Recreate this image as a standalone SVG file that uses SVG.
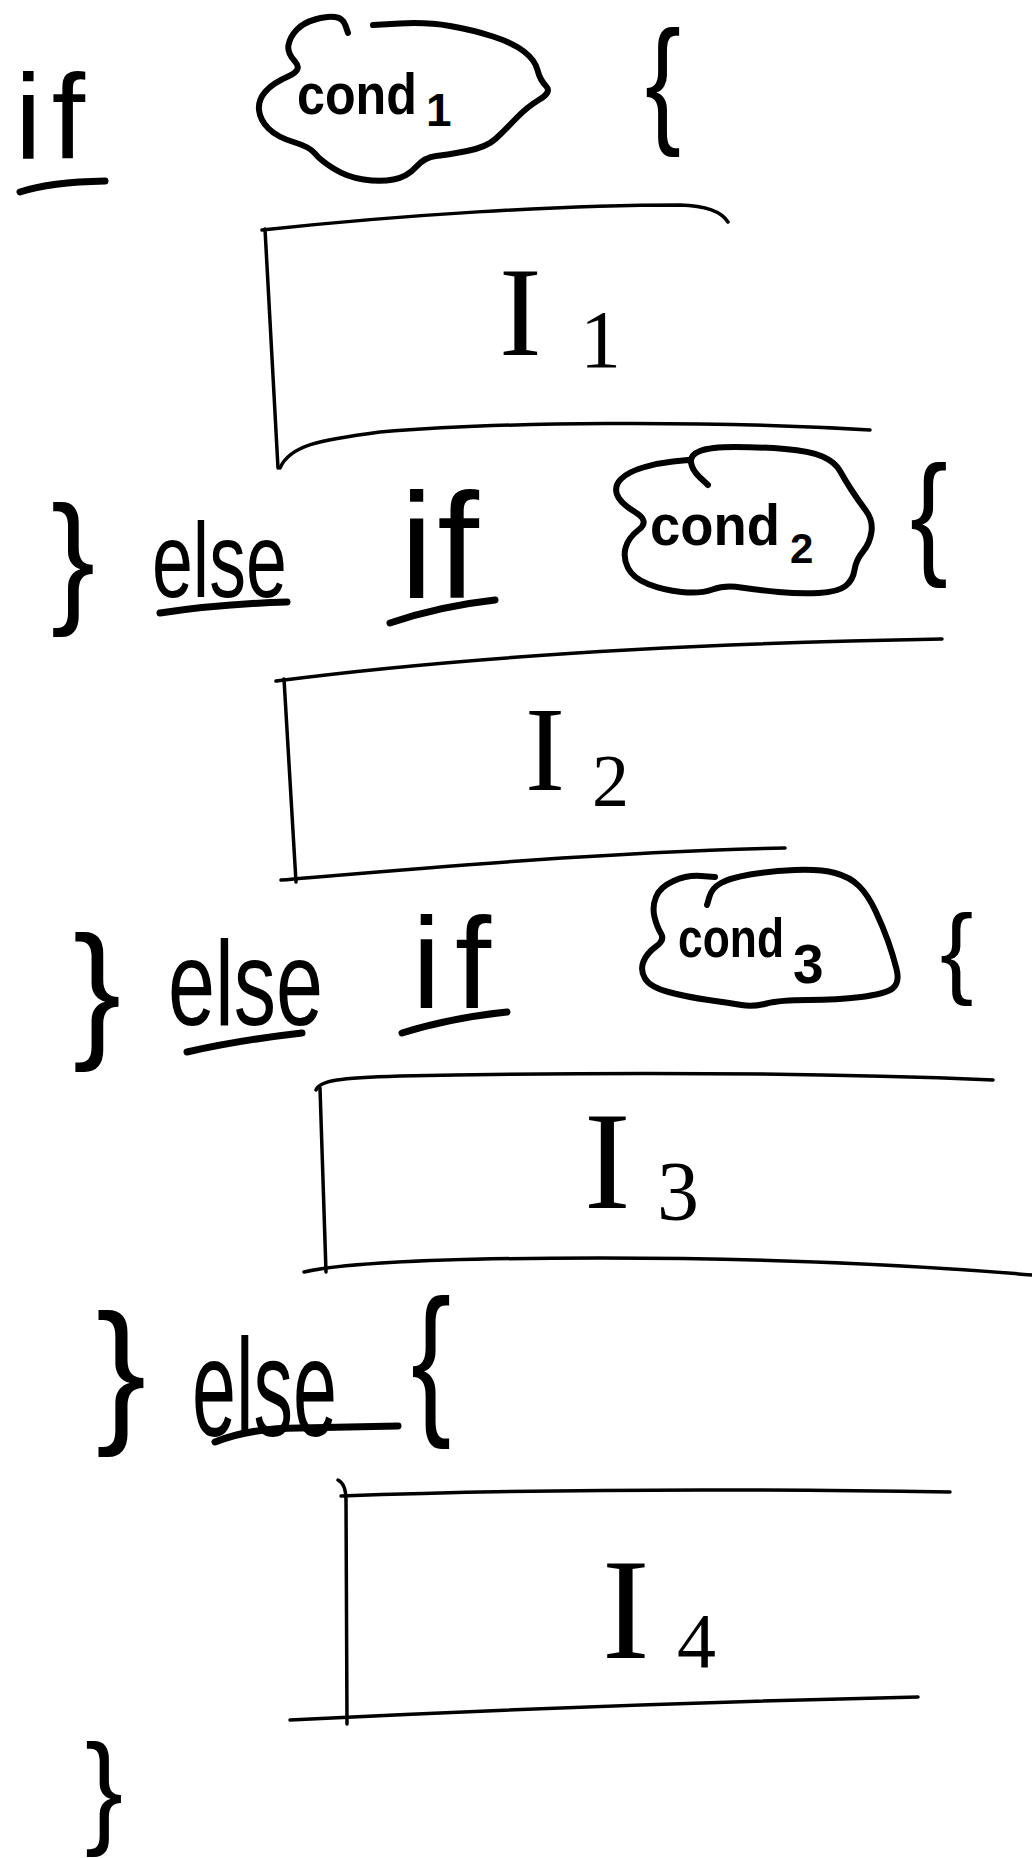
<svg xmlns="http://www.w3.org/2000/svg" width="1032" height="1858" viewBox="0 0 1032 1858">
<style>
.t{font-family:"Liberation Sans",Arial,sans-serif;fill:#000}
.b{font-weight:bold}
.s{font-family:"Liberation Serif","Times New Roman",serif;fill:#000}
.box{fill:none;stroke:#000;stroke-width:3.5;stroke-linecap:round;stroke-linejoin:round}
.cloud{fill:none;stroke:#000;stroke-width:6;stroke-linecap:round;stroke-linejoin:round}
.ul{fill:none;stroke:#000;stroke-width:7;stroke-linecap:round}
</style>
<rect width="1032" height="1858" fill="#fff"/>

<g id="row1">
  <text class="t" x="15" y="158" font-size="120">i<tspan dx="10">f</tspan></text>
  <path class="ul" d="M20,192 Q50,182 105,181"/>
  <text class="t" transform="translate(645,128) scale(0.77,1)" font-size="140">{</text>
</g>

<g id="cond1">
  <path class="cloud" d="M348,33 L345.5,25.5 Q343,18 335,17 Q327,16 315,19.5 Q303,23 296.5,30 Q290,37 288.5,45 Q287,53 295,61.5 Q303,70 288,76.5 Q273,83 265.5,91.5 Q258,100 259,110 Q260,120 268.5,128.5 Q277,137 293.5,142 Q310,147 315,153.5 Q320,160 333.5,168.5 Q347,177 363.5,179.5 Q380,182 393.5,179.5 Q407,177 416,167 Q425,157 436,156 Q447,155 467,151 Q487,147 496,138.5 Q505,130 516,118.5 Q527,107 539.5,99.5 Q552,92 546,86 Q540,80 537.5,70 Q535,60 524,51.5 Q513,43 493,36.5 Q473,30 450,26 Q427,22 400,23.5 L373,25"/>
  <text class="t b" transform="translate(297,114) scale(0.866,1)" font-size="58">cond</text>
  <text class="t b" x="426" y="126" font-size="46">1</text>
</g>

<g id="block1">
  <path class="box" d="M262,230 C400,215 560,205 680,205 Q718,206 728,222"/>
  <path class="box" d="M265,229 L278,468"/>
  <path class="box" d="M280,468 C290,445 320,440 380,432 C500,422 700,420 870,430"/>
  <text class="s" x="499" y="355" font-size="128">I</text>
  <text class="s" x="580" y="367" font-size="82">1</text>
</g>

<g id="row2">
  <text class="t" transform="translate(51,607) scale(0.91,1)" font-size="145">}</text>
  <text class="t" transform="translate(152,597) scale(0.70,1)" font-size="105">else</text>
  <path class="ul" d="M160,613 Q220,604 287,602"/>
  <text class="t" x="400" y="598" font-size="150">i<tspan dx="4">f</tspan></text>
  <path class="ul" d="M390,623 Q440,606 495,600"/>
  <text class="t" transform="translate(910,560) scale(0.84,1)" font-size="135">{</text>
</g>

<g id="cond2">
  <path class="cloud" d="M708,485 L700,477.5 Q692,470 691,462.5 Q690,455 700,451 Q710,447 735,447 Q760,447 785,449 Q810,451 822.5,456.5 Q835,462 840,471 Q845,480 851.5,490 Q858,500 865.5,510 Q873,520 871.5,531.5 Q870,543 863,551.5 Q856,560 854.5,570 Q853,580 845.5,586 Q838,592 819,593 Q800,594 778.5,592 Q757,590 741,587.5 Q725,585 712.5,589.5 Q700,594 681.5,592 Q663,590 648,584 Q633,578 628,568 Q623,558 625.5,548 Q628,538 639,529.5 Q650,521 635,512 Q620,503 617,494.5 Q614,486 621,479 Q628,472 643,467.5 Q658,463 673,461.5 L688,460"/>
  <text class="t b" transform="translate(650,545) scale(0.938,1)" font-size="58">cond</text>
  <text class="t b" x="790" y="563" font-size="42">2</text>
</g>

<g id="block2">
  <path class="box" d="M276,681 C400,665 600,645 942,639"/>
  <path class="box" d="M284,679 L296,882"/>
  <path class="box" d="M281,880 C400,870 600,852 785,848"/>
  <text class="s" x="525" y="790" font-size="120">I</text>
  <text class="s" x="592" y="806" font-size="74">2</text>
</g>

<g id="row3">
  <text class="t" transform="translate(73,1041) scale(0.96,1)" font-size="150">}</text>
  <text class="t" transform="translate(168,1025) scale(0.705,1)" font-size="120">else</text>
  <path class="ul" d="M187,1052 Q240,1040 302,1033"/>
  <text class="t" x="412" y="1008" font-size="130">i<tspan dx="14">f</tspan></text>
  <path class="ul" d="M402,1033 Q450,1018 507,1012"/>
  <text class="t" x="940" y="985" font-size="100">{</text>
</g>

<g id="cond3">
  <path class="cloud" d="M707,905 L709.5,896.5 Q712,888 721,883 Q730,878 750,874.5 Q770,871 795,870 Q820,869 835,873 Q850,877 859,886 Q868,895 875.5,911 Q883,927 888,941 Q893,955 896.5,969 Q900,983 892.5,988.5 Q885,994 861,997 Q837,1000 808.5,1000 Q780,1000 766.5,1003.5 Q753,1007 741.5,1005 Q730,1003 708.5,1000 Q687,997 668.5,992 Q650,987 645,978.5 Q640,970 643.5,961.5 Q647,953 656,946.5 Q665,940 661,933.5 Q657,927 654.5,917 Q652,907 656,897 Q660,887 673.5,881 Q687,875 701,876 L715,877"/>
  <text class="t b" transform="translate(678,957) scale(0.807,1)" font-size="55">cond</text>
  <text class="t b" x="793" y="983" font-size="55">3</text>
</g>

<g id="block3">
  <path class="box" d="M316,1090 C320,1080 340,1078 400,1076 C600,1072 800,1072 993,1080"/>
  <path class="box" d="M320,1088 L326,1272"/>
  <path class="box" d="M304,1272 C350,1262 450,1258 600,1258 C800,1258 950,1268 1032,1275"/>
  <text class="s" x="584" y="1208" font-size="140">I</text>
  <text class="s" x="657" y="1220" font-size="84">3</text>
</g>

<g id="row4">
  <text class="t" transform="translate(96,1424) scale(0.95,1)" font-size="158">}</text>
  <text class="t" transform="translate(192,1436) scale(0.565,1)" font-size="140">else</text>
  <path class="ul" d="M215,1442 Q250,1428 300,1428 L398,1426"/>
  <text class="t" transform="translate(411,1415) scale(0.73,1)" font-size="165">{</text>
</g>

<g id="block4">
  <path class="box" d="M341,1496 C500,1490 700,1488 950,1492"/>
  <path class="box" d="M338,1480 Q346,1484 346,1500 L347,1724"/>
  <path class="box" d="M290,1720 C450,1712 700,1702 918,1697"/>
  <text class="s" x="602" y="1658" font-size="143">I</text>
  <text class="s" x="677" y="1667" font-size="78">4</text>
</g>

<g id="end">
  <text class="t" transform="translate(85,1831) scale(0.91,1)" font-size="125">}</text>
</g>

<g id="connectors"/>
</svg>
